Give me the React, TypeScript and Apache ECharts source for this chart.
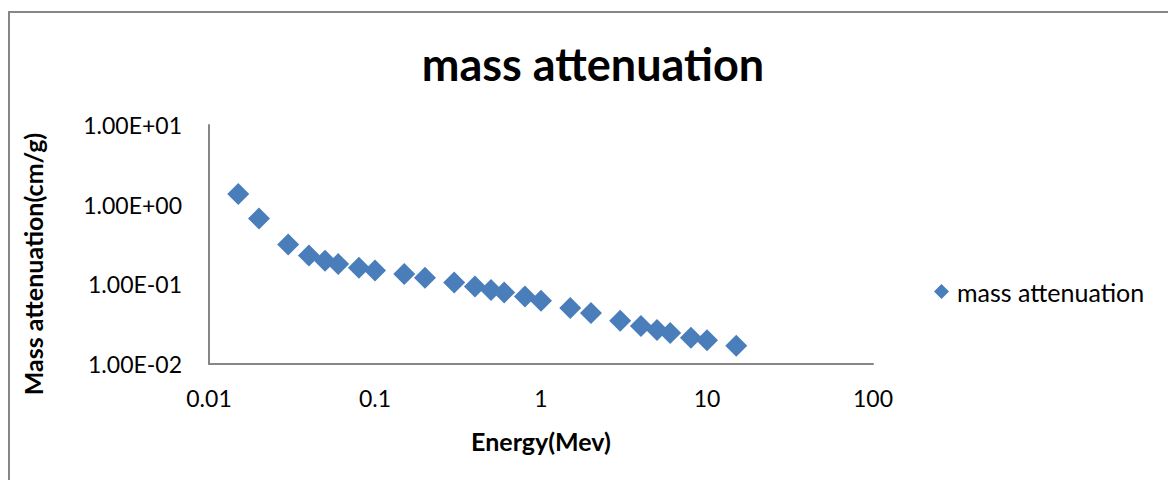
import React, { useEffect, useRef } from "react";
import * as echarts from "echarts";

const energy = [0.015, 0.02, 0.03, 0.04, 0.05, 0.06, 0.08, 0.1, 0.15, 0.2, 0.3, 0.4, 0.5, 0.6, 0.8, 1, 1.5, 2, 3, 4, 5, 6, 8, 10, 15];
const massAttenuation = [1.36, 0.67, 0.316, 0.23, 0.198, 0.1795, 0.1615, 0.149, 0.1346, 0.121, 0.1057, 0.0942, 0.0849, 0.0792, 0.0705, 0.0623, 0.0505, 0.0437, 0.035, 0.03, 0.0267, 0.0245, 0.0214, 0.0198, 0.017];
const xTickLabels = ["0.01", "0.1", "1", "10", "100"];
const yTickLabels = ["1.00E-02", "1.00E-01", "1.00E+00", "1.00E+01"];

const titleText = "mass attenuation";
const seriesName = "mass attenuation";
const xName = "Energy(Mev)";
const yName = "Mass attenuation(cm/g)";

const FONT = "Lato, 'Open Sans', sans-serif";

export default function App() {
  const ref = useRef<HTMLDivElement>(null);
  useEffect(() => {
    if (!ref.current) return;
    const chart = echarts.init(ref.current, null, { renderer: "svg" });
    const decadeIndex = (v: number) => Math.round(Math.log10(v));
    chart.setOption({
      animation: false,
      backgroundColor: "#ffffff",
      textStyle: { fontFamily: FONT },
      title: {
        text: titleText,
        left: 588,
        top: 36,
        textAlign: "center",
        textStyle: { fontFamily: FONT, fontSize: 45, fontWeight: "bold", color: "#000" },
      },
      grid: { left: 209, top: 125, right: 295, bottom: 116, containLabel: false },
      legend: {
        left: 929,
        top: 274,
        icon: "diamond",
        itemWidth: 15,
        itemHeight: 15,
        textStyle: { fontFamily: FONT, fontSize: 25, color: "#000", padding: [0, 0, 0, 3] },
        data: [seriesName],
      },
      xAxis: {
        type: "log",
        logBase: 10,
        min: 0.01,
        max: 100,
        name: xName,
        nameLocation: "middle",
        nameGap: 64,
        nameTextStyle: { fontFamily: FONT, fontSize: 25, fontWeight: "bold", color: "#000" },
        axisLine: { lineStyle: { color: "#868686", width: 2 } },
        axisTick: { show: false },
        splitLine: { show: false },
        axisLabel: {
          fontFamily: FONT,
          fontSize: 23,
          color: "#000",
          margin: 22,
          formatter: (v: number) => xTickLabels[decadeIndex(v) + 2] ?? "",
        },
      },
      yAxis: {
        type: "log",
        logBase: 10,
        min: 0.01,
        max: 10,
        axisLine: { show: true, lineStyle: { color: "#868686", width: 2 } },
        axisTick: { show: false },
        splitLine: { show: false },
        axisLabel: {
          fontFamily: FONT,
          fontSize: 23,
          color: "#000",
          margin: 27,
          formatter: (v: number) => yTickLabels[decadeIndex(v) + 2] ?? "",
        },
      },
      graphic: [
        {
          type: "rect",
          shape: { x: 9, y: 12, width: 1300, height: 600 },
          style: { fill: "none", stroke: "#868686", lineWidth: 2 },
          silent: true,
        },
        {
          type: "text",
          x: 33,
          y: 264,
          rotation: Math.PI / 2,
          style: {
            text: yName,
            fontFamily: FONT,
            fontSize: 25,
            fontWeight: "bold",
            fill: "#000",
            textAlign: "center",
            textVerticalAlign: "middle",
          },
        },
      ],
      series: [
        {
          name: seriesName,
          type: "scatter",
          symbol: "diamond",
          symbolSize: 22,
          itemStyle: { color: "#4A7EBB", opacity: 1 },
          data: energy.map((e, i) => [e, massAttenuation[i]]),
        },
      ],
    });
    return () => chart.dispose();
  }, []);
  return <div ref={ref} style={{ position: "absolute", left: 0, top: 0, width: 1168, height: 480 }} />;
}
